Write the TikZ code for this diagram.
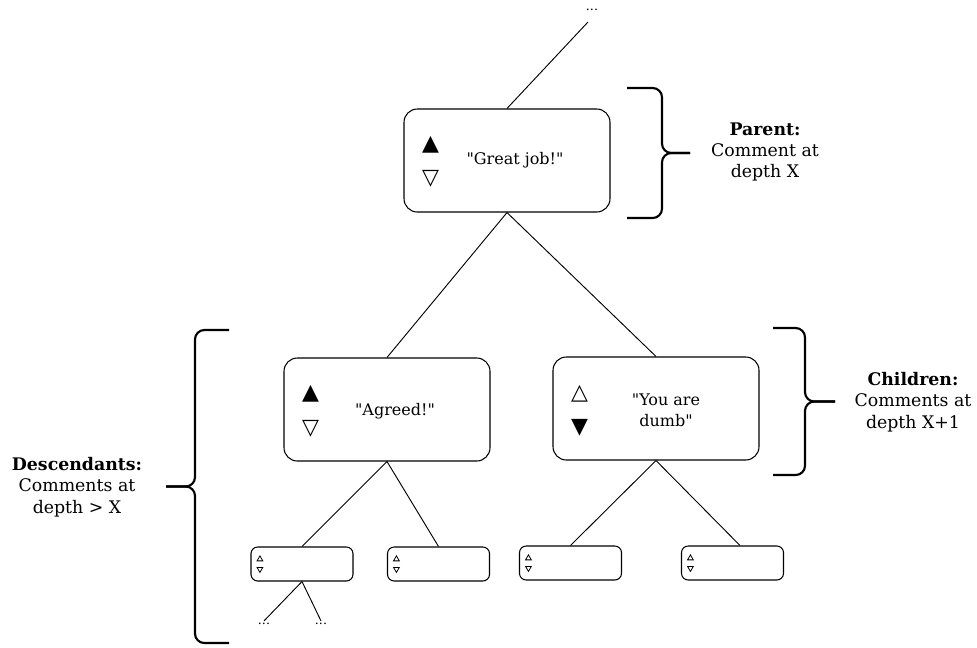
\documentclass[tikz,border=0pt]{standalone}
\usepackage{fontspec}
\setmainfont{DejaVu Serif}
\newfontfamily\symfont{DejaVu Sans}
\usetikzlibrary{positioning,shapes.geometric}

\begin{document}
\begin{tikzpicture}[x=0.75pt, y=-0.75pt,
    cbox/.style={draw, rounded corners=10pt, line width=0.8pt, minimum width=154.5pt, minimum height=77.25pt, inner sep=0pt},
    sbox/.style={draw, rounded corners=5pt, line width=0.8pt, minimum width=76.5pt, minimum height=25.5pt, inner sep=0pt},
    vote/.style={inner sep=0pt, font=\symfont\fontsize{16.5}{16.5}\selectfont},
    svote/.style={draw, line width=0.6pt, regular polygon, regular polygon sides=3, minimum size=5pt, inner sep=0pt},
    txt/.style={align=center, font=\fontsize{12}{16}\selectfont},
    lbl/.style={align=center, font=\fontsize{13}{16}\selectfont},
    brace/.style={line width=1.6pt, rounded corners=7pt},
    link/.style={line width=0.7pt},
    dots/.style={inner sep=1.5pt, font=\fontsize{9.5}{10}\selectfont}]
    \useasboundingbox (0,0) rectangle (977,647);
    %\draw[red] (0,0) rectangle (977,647);
    \node[cbox] (p) at (507,160.5) {};
    \node[cbox] (a) at (387,409.5) {};
    \node[cbox] (d) at (656,408.5) {};
    \node[sbox] (g1) at (302,564) {};
    \node[sbox] (g2) at (438.5,564) {};
    \node[sbox] (g3) at (570.5,563) {};
    \node[sbox] (g4) at (732.5,563) {};
    % votes
    \node[vote] (pu) at (430.5,145) {▲};
    \node[vote] (pd) at (430.5,179) {▽};
    \node[vote] (au) at (310.5,394) {▲};
    \node[vote] (ad) at (310.5,428.5) {▽};
    \node[vote] (du) at (579.5,393.5) {△};
    \node[vote] (dd) at (579.5,427.5) {▼};
    \foreach \b in {g1,g2,g3,g4} {
        \node[svote] (\b u) at ([xshift=7.1pt,yshift=3.6pt]\b.west) {};
        \node[svote, shape border rotate=180] (\b d) at ([xshift=7.1pt,yshift=-3.8pt]\b.west) {};
    }
    \node[txt] (pt) at (515,160) {\textquotedbl Great job!\textquotedbl};
    \node[txt] (at) at (395,411) {\textquotedbl Agreed!\textquotedbl};
    \node[txt] (dt) at (666,410) {\textquotedbl You are\\dumb\textquotedbl};
    \node[dots] (top) at (592,10) {...};
    \node[dots] (l1) at (264,624) {...};
    \node[dots] (l2) at (321,624) {...};
    \coordinate (topend) at (588,22);
    \draw[link] (p.north) -- (topend);
    \draw[link] (p.south) -- (a.north);
    \draw[link] (p.south) -- (d.north);
    \draw[link] (a.south) -- (g1.north);
    \draw[link] (a.south) -- (g2.north);
    \draw[link] (d.south) -- (g3.north);
    \draw[link] (d.south) -- ([xshift=5.6pt]g4.north);
    \draw[link] (g1.south) -- (l1.north);
    \draw[link] (g1.south) -- (l2.north);
    % braces
    \draw[brace] (627,88) -- (662,88) -- (662,153) -- (690,153);
    \draw[brace] (627,218) -- (662,218) -- (662,153) -- (690,153);
    \draw[brace] (773,328) -- (805,328) -- (805,401.5) -- (835,401.5);
    \draw[brace] (773,475) -- (805,475) -- (805,401.5) -- (835,401.5);
    \draw[brace] (229,330) -- (195,330) -- (195,486.5) -- (166,486.5);
    \draw[brace] (229,643) -- (195,643) -- (195,486.5) -- (166,486.5);
    \node[lbl] (parentlbl) at (765,152) {\textbf{Parent:}\\Comment at\\depth X};
    \node[lbl] (childlbl) at (913,402) {\textbf{Children:}\\Comments at\\depth X+1};
    \node[lbl] (desclbl) at (77,487) {\textbf{Descendants:}\\Comments at\\depth > X};
\end{tikzpicture}
\end{document}
